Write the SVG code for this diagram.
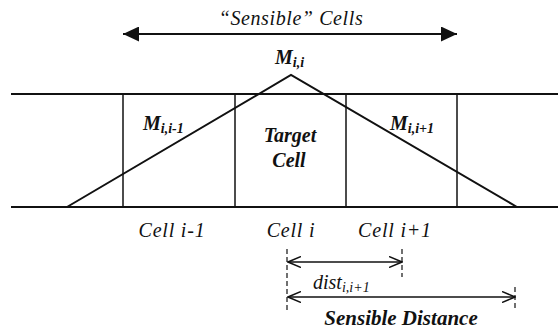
<svg xmlns="http://www.w3.org/2000/svg" width="558" height="332" viewBox="0 0 558 332">
<style>
.ln{stroke:#111;fill:none;stroke-linecap:butt}
.thick{stroke-width:2}
.thin{stroke-width:1.5}
.dash{stroke:#111;stroke-width:1.2;stroke-dasharray:5,3;fill:none}
text{font-family:'Liberation Serif','DejaVu Serif','Times New Roman',serif;fill:#111}
.it{font-style:italic}
.bi{font-style:italic;font-weight:bold}
</style>
<defs>
<marker id="fa" viewBox="0 0 16 15" refX="16" refY="7.5" markerWidth="16" markerHeight="15" orient="auto-start-reverse" markerUnits="userSpaceOnUse">
<path d="M0,0 L16,7.5 L0,15 z" fill="#111"/>
</marker>
<marker id="oa" viewBox="0 0 14 12" refX="13" refY="6" markerWidth="14" markerHeight="12" orient="auto-start-reverse" markerUnits="userSpaceOnUse">
<path d="M0,0.5 L13,6 L0,11.5" fill="none" stroke="#111" stroke-width="1.5"/>
</marker>
</defs>
<rect width="558" height="332" fill="#fff"/>

<g id="grid">
<line class="ln thick" x1="11" y1="94" x2="558" y2="94"/>
<line class="ln thick" x1="11" y1="207" x2="558" y2="207"/>
</g>
<g id="cell-i-minus-1">
<line class="ln thin" x1="123" y1="94" x2="123" y2="207"/>
<text class="it" x="172" y="237" font-size="20" text-anchor="middle" letter-spacing="0.8">Cell i-1</text>
<text class="bi" x="143" y="130" font-size="20">M<tspan font-size="14" dy="3">i,i-1</tspan></text>
</g>
<g id="cell-i">
<line class="ln thin" x1="235" y1="94" x2="235" y2="207"/>
<line class="ln thin" x1="346" y1="94" x2="346" y2="207"/>
<text class="bi" x="290" y="142" font-size="20" text-anchor="middle">Target</text>
<text class="bi" x="289" y="167" font-size="20" text-anchor="middle">Cell</text>
<text class="it" x="291" y="237" font-size="20" text-anchor="middle" letter-spacing="0.8">Cell i</text>
<text class="bi" x="275" y="64" font-size="20">M<tspan font-size="14" dy="3">i,i</tspan></text>
</g>
<g id="cell-i-plus-1">
<line class="ln thin" x1="457" y1="94" x2="457" y2="207"/>
<text class="it" x="395" y="237" font-size="20" text-anchor="middle" letter-spacing="0.8">Cell i+1</text>
<text class="bi" x="390" y="130" font-size="20">M<tspan font-size="14" dy="3">i,i+1</tspan></text>
</g>
<g id="membership">
<polyline class="ln thick" points="67,207 291,75 517,207"/>
</g>
<g id="sensible-cells">
<text class="it" x="291" y="25" font-size="20" text-anchor="middle" letter-spacing="0.6">“Sensible” Cells</text>
</g>
<g id="dimensions">
<line class="dash" x1="287" y1="249" x2="287" y2="310"/>
<line class="dash" x1="402" y1="249" x2="402" y2="277"/>
<line class="dash" x1="515" y1="287" x2="515" y2="310"/>
<text class="it" x="313" y="289" font-size="20">dist<tspan font-size="14" dy="3">i,i+1</tspan></text>
<text class="bi" x="401" y="325" font-size="21" text-anchor="middle">Sensible Distance</text>
</g>
<g id="connectors">
<line class="ln thick" x1="123" y1="34" x2="457" y2="34" marker-start="url(#fa)" marker-end="url(#fa)"/>
<line class="ln thin" x1="288" y1="262" x2="402" y2="262" marker-start="url(#oa)" marker-end="url(#oa)"/>
<line class="ln thin" x1="288" y1="297" x2="515" y2="297" marker-start="url(#oa)" marker-end="url(#oa)"/>
</g>
</svg>
